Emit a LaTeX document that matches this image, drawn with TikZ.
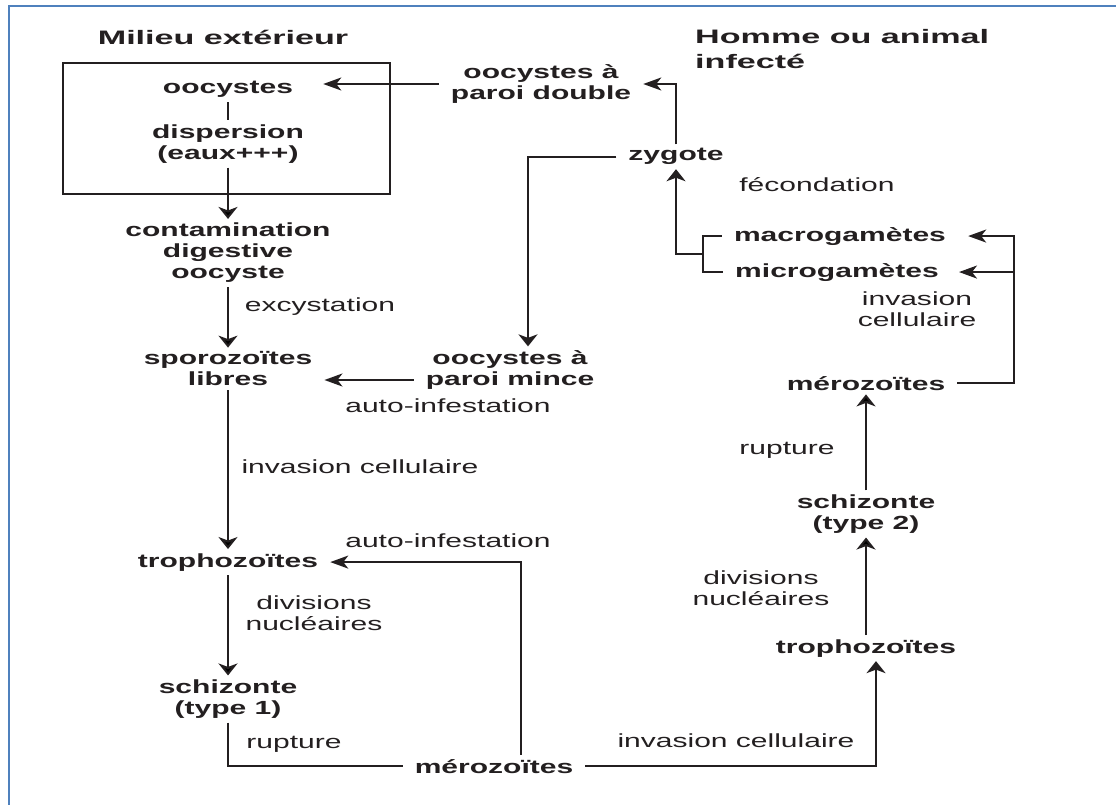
\documentclass[tikz,border=0pt]{standalone}
\usepackage{fontspec}
\newfontfamily\diagfont[FakeStretch=1.58]{Liberation Sans}
\newfontfamily\headfont[FakeStretch=1.75]{Liberation Sans}
\usetikzlibrary{arrows.meta}
\definecolor{ink}{RGB}{35,31,32}
\definecolor{framecol}{RGB}{79,129,189}

\tikzset{
  stage/.style={font=\diagfont\bfseries\fontsize{19}{21}\selectfont, text=ink, align=center, inner xsep=12pt, inner ysep=4pt},
  lbl/.style={font=\diagfont\fontsize{19}{21}\selectfont, text=ink, align=center, inner sep=0pt},
  head/.style={font=\headfont\bfseries\fontsize{19.5}{25}\selectfont, text=ink, align=left, inner sep=0pt},
  link/.style={draw=ink, line width=2pt},
  harr/.style={link, -{Stealth[length=18pt, width=13pt, inset=5pt]}},
  varr/.style={link, -{Stealth[length=12pt, width=19pt, inset=3.5pt]}},
}

\begin{document}
\begin{tikzpicture}[x=1pt, y=-1pt]
    \useasboundingbox (0,0) rectangle (1116,805);
    \draw[framecol, line width=2pt] (8.5,805) -- (8.5,6) -- (1116,6);

    % headings
    \node[head, anchor=base] (hdL) at (223,45) {Milieu extérieur};
    \node[head, anchor=north west] (hdR) at (695,29) {Homme ou animal\\infecté};

    % milieu exterieur
    \node[draw=ink, line width=2pt, minimum width=327pt, minimum height=131pt] (outer) at (226.5,128.5) {};
    \node[stage, anchor=base] (oocB) at (228,94) {oocystes};
    \node[stage] (disp) at (228,144) {dispersion\\(eaux+++)};

    % cycle chez l'hote
    \node[stage] (cont) at (228,253) {contamination\\digestive\\oocyste};
    \node[stage] (sporo) at (228,369) {sporozoïtes\\libres};
    \node[stage, anchor=base] (trophL) at (228,567) {trophozoïtes};
    \node[stage] (schiz1) at (228,699) {schizonte\\(type 1)};
    \node[stage, anchor=base] (merozB) at (494,773) {mérozoïtes};
    \node[stage, anchor=base] (trophR) at (866,653) {trophozoïtes};
    \node[stage] (schiz2) at (866,514) {schizonte\\(type 2)};
    \node[stage, anchor=base] (merozR) at (866,390) {mérozoïtes};
    \node[stage, anchor=base] (macro) at (840,241) {macrogamètes};
    \node[stage, anchor=base] (micro) at (837,277) {microgamètes};
    \node[stage, anchor=base] (zyg) at (676,161) {zygote};
    \node[stage] (oocDbl) at (541,84) {oocystes à\\paroi double};
    \node[stage] (oocMince) at (510,370) {oocystes à\\paroi mince};

    % labels
    \node[lbl, anchor=base] (lExcyst) at (320,311) {excystation};
    \node[lbl, anchor=base] (lInvL) at (360,473) {invasion cellulaire};
    \node[lbl] (lDivL) at (314,613) {divisions\\nucléaires};
    \node[lbl, anchor=base] (lRupL) at (294,748) {rupture};
    \node[lbl, anchor=base] (lAuto1) at (448,412) {auto-infestation};
    \node[lbl, anchor=base] (lAuto2) at (448,547) {auto-infestation};
    \node[lbl, anchor=base] (lFecond) at (817,192) {fécondation};
    \node[lbl] (lInvR) at (917,309) {invasion\\cellulaire};
    \node[lbl, anchor=base] (lRupR) at (787,454) {rupture};
    \node[lbl] (lDivR) at (761,588) {divisions\\nucléaires};
    \node[lbl, anchor=base] (lInvB) at (736,747) {invasion cellulaire};

    \coordinate (rbus) at (1014,0);
    \coordinate (brk) at (703,0);
    \coordinate (gjoin) at (703,254);

    % connectors
    \draw[link] (oocB) -- (disp);
    \path[varr]
    (disp) edge (cont)
    (cont) edge (sporo)
    (sporo) edge (trophL)
    (trophL) edge (schiz1)
    (trophR) edge (schiz2)
    (schiz2) edge (merozR);
    \draw[link] (schiz1) |- (merozB);
    \draw[harr] ([xshift=27pt]merozB.north) |- (trophL);
    \draw[varr] (merozB) -| ([xshift=10pt]trophR.south);
    \draw[harr] (merozR.east) -- (merozR.east -| rbus) |- ([xshift=10pt]macro.east);
    \draw[harr] (micro.east -| rbus) -- ([xshift=8pt]micro.east);
    \draw[link] (macro.west) -- (macro.west -| brk) -- (micro.west -| brk) -- (micro.west);
    \draw[varr] (gjoin) -| (zyg);
    \draw[harr] (zyg) |- (oocDbl);
    \draw[varr] (zyg) -| ([xshift=18pt]oocMince.north);
    \draw[harr] ([yshift=-10pt]oocMince.west) -- ([yshift=-10pt]oocMince.west -| sporo.east);
    \draw[harr] (oocDbl.west) -- ([xshift=18pt]oocDbl.west -| oocB.east);
\end{tikzpicture}
\end{document}
